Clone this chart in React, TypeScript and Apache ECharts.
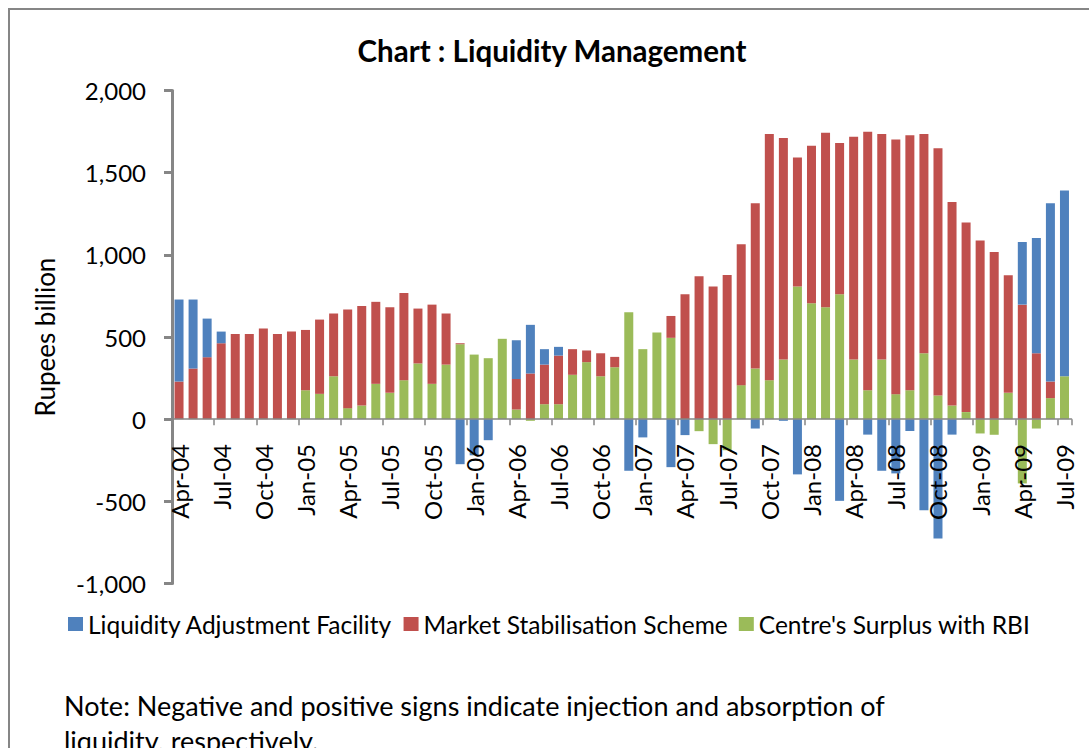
import React, { useEffect, useRef } from "react";
import * as echarts from "echarts";

const months: string[] = [
  "Apr-04","May-04","Jun-04","Jul-04","Aug-04","Sep-04","Oct-04","Nov-04","Dec-04",
  "Jan-05","Feb-05","Mar-05","Apr-05","May-05","Jun-05","Jul-05","Aug-05","Sep-05","Oct-05","Nov-05","Dec-05",
  "Jan-06","Feb-06","Mar-06","Apr-06","May-06","Jun-06","Jul-06","Aug-06","Sep-06","Oct-06","Nov-06","Dec-06",
  "Jan-07","Feb-07","Mar-07","Apr-07","May-07","Jun-07","Jul-07","Aug-07","Sep-07","Oct-07","Nov-07","Dec-07",
  "Jan-08","Feb-08","Mar-08","Apr-08","May-08","Jun-08","Jul-08","Aug-08","Sep-08","Oct-08","Nov-08","Dec-08",
  "Jan-09","Feb-09","Mar-09","Apr-09","May-09","Jun-09","Jul-09",
];

// Liquidity Adjustment Facility (Rupees billion)
const laf: number[] = [
  499, 420, 235, 71, 0, 0, 0, 0, 0,
  0, 0, 0, 0, 0, 0, 0, 0, 0, 0, 0, -274,
  -220, -128, 0, 235, 296, 94, 53, 0, 0, 0, 0, -314,
  -111, 0, -292, -97, 0, 0, 0, 0, -57, 0, -10, -336,
  0, 0, -497, 0, -94, -314, -330, -72, -554, -726, -94, 0,
  0, 0, 0, 381, 702, 1085, 1130,
];

// Market Stabilisation Scheme
const mss: number[] = [
  229, 308, 377, 462, 519, 519, 551, 519, 533,
  367, 452, 382, 600, 606, 499, 521, 531, 334, 482, 311, 6,
  0, 0, 0, 186, 278, 241, 296, 156, 71, 140, 63, 0,
  0, 0, 133, 760, 870, 807, 878, 857, 1006, 1498, 1348, 786,
  959, 1062, 920, 1356, 1573, 1372, 1550, 1552, 1334, 1504, 1239, 1153,
  1087, 1018, 716, 697, 401, 101, 0,
];

// Centre's Surplus with RBI
const csr: number[] = [
  0, 0, 0, 0, 0, 0, 0, 0, 0,
  176, 154, 261, 67, 83, 215, 160, 237, 339, 215, 332, 456,
  393, 371, 489, 59, -10, 91, 91, 270, 347, 261, 316, 651,
  426, 527, 495, 0, -73, -152, -189, 207, 308, 237, 363, 807,
  705, 681, 760, 363, 176, 363, 152, 176, 401, 144, 83, 43,
  -87, -95, 160, -391, -57, 128, 261,
];

const seriesNames: string[] = [
  "Liquidity Adjustment Facility",
  "Market Stabilisation Scheme",
  "Centre's Surplus with RBI",
];

const yTicks = { min: -1000, max: 2000, interval: 500 };

const FONT = "Lato, 'Open Sans', sans-serif";

export default function App() {
  const ref = useRef<HTMLDivElement>(null);
  useEffect(() => {
    if (!ref.current) return;
    const chart = echarts.init(ref.current, undefined, { renderer: "svg" });
    const toData = (arr: number[]) => arr.map((v) => (v === 0 ? "-" : v));
    chart.setOption({
      animation: false,
      backgroundColor: "#ffffff",
      textStyle: { fontFamily: FONT },
      title: {
        text: "Chart : Liquidity Management",
        left: 547,
        top: 30,
        textAlign: "center",
        textStyle: { fontFamily: FONT, fontWeight: "bold", fontSize: 29.5, color: "#000" },
      },
      legend: {
        data: seriesNames,
        left: 63,
        top: 606,
        itemWidth: 15,
        itemHeight: 14,
        itemGap: 11,
        icon: "rect",
        textStyle: { fontFamily: FONT, fontSize: 24.5, lineHeight: 26, color: "#000" },
      },
      grid: { left: 172, right: 17.5, top: 90.5, bottom: 164.5, containLabel: false },
      xAxis: {
        type: "category",
        data: months,
        z: 10,
        axisLine: { onZero: true, lineStyle: { color: "#868686", width: 1.5 } },
        axisTick: { show: true, interval: 2, length: 6, alignWithLabel: false, lineStyle: { color: "#868686", width: 1.5 } },
        axisLabel: { interval: 2, rotate: 90, fontSize: 24, color: "#000", margin: -139.5, fontFamily: FONT },
      },
      yAxis: {
        type: "value",
        min: yTicks.min,
        max: yTicks.max,
        interval: yTicks.interval,
        name: "Rupees billion",
        nameLocation: "middle",
        nameRotate: 90,
        nameGap: 114,
        nameTextStyle: { fontFamily: FONT, fontSize: 26, color: "#000" },
        axisLine: { show: true, lineStyle: { color: "#868686", width: 3 } },
        axisTick: { show: true, length: 8, lineStyle: { color: "#868686", width: 3 } },
        splitLine: { show: false },
        axisLabel: {
          fontSize: 24,
          color: "#000",
          margin: 26,
          fontFamily: FONT,
          formatter: (v: number) => v.toLocaleString("en-US"),
        },
      },
      series: [
        {
          name: seriesNames[2],
          type: "bar",
          stack: "total",
          barWidth: 9,
          itemStyle: { color: "#9BBB59" },
          data: toData(csr),
        },
        {
          name: seriesNames[1],
          type: "bar",
          stack: "total",
          barWidth: 9,
          itemStyle: { color: "#C0504D" },
          data: toData(mss),
        },
        {
          name: seriesNames[0],
          type: "bar",
          stack: "total",
          barWidth: 9,
          itemStyle: { color: "#4F81BD" },
          data: toData(laf),
        },
      ],
      graphic: [
        {
          type: "rect",
          shape: { x: 9, y: 9, width: 1200, height: 900 },
          style: { fill: "none", stroke: "#868686", lineWidth: 2 },
          silent: true,
        },
        {
          type: "text",
          left: 64,
          top: 688,
          style: {
            text: "Note: Negative and positive signs indicate injection and absorption of\nliquidity, respectively.",
            fontFamily: FONT,
            fontSize: 27,
            lineHeight: 35,
            fill: "#000",
          },
        },
      ],
    });
    return () => chart.dispose();
  }, []);
  return (
    <div
      ref={ref}
      style={{ position: "fixed", left: 0, top: 0, width: 1089, height: 748, background: "#fff" }}
    />
  );
}
